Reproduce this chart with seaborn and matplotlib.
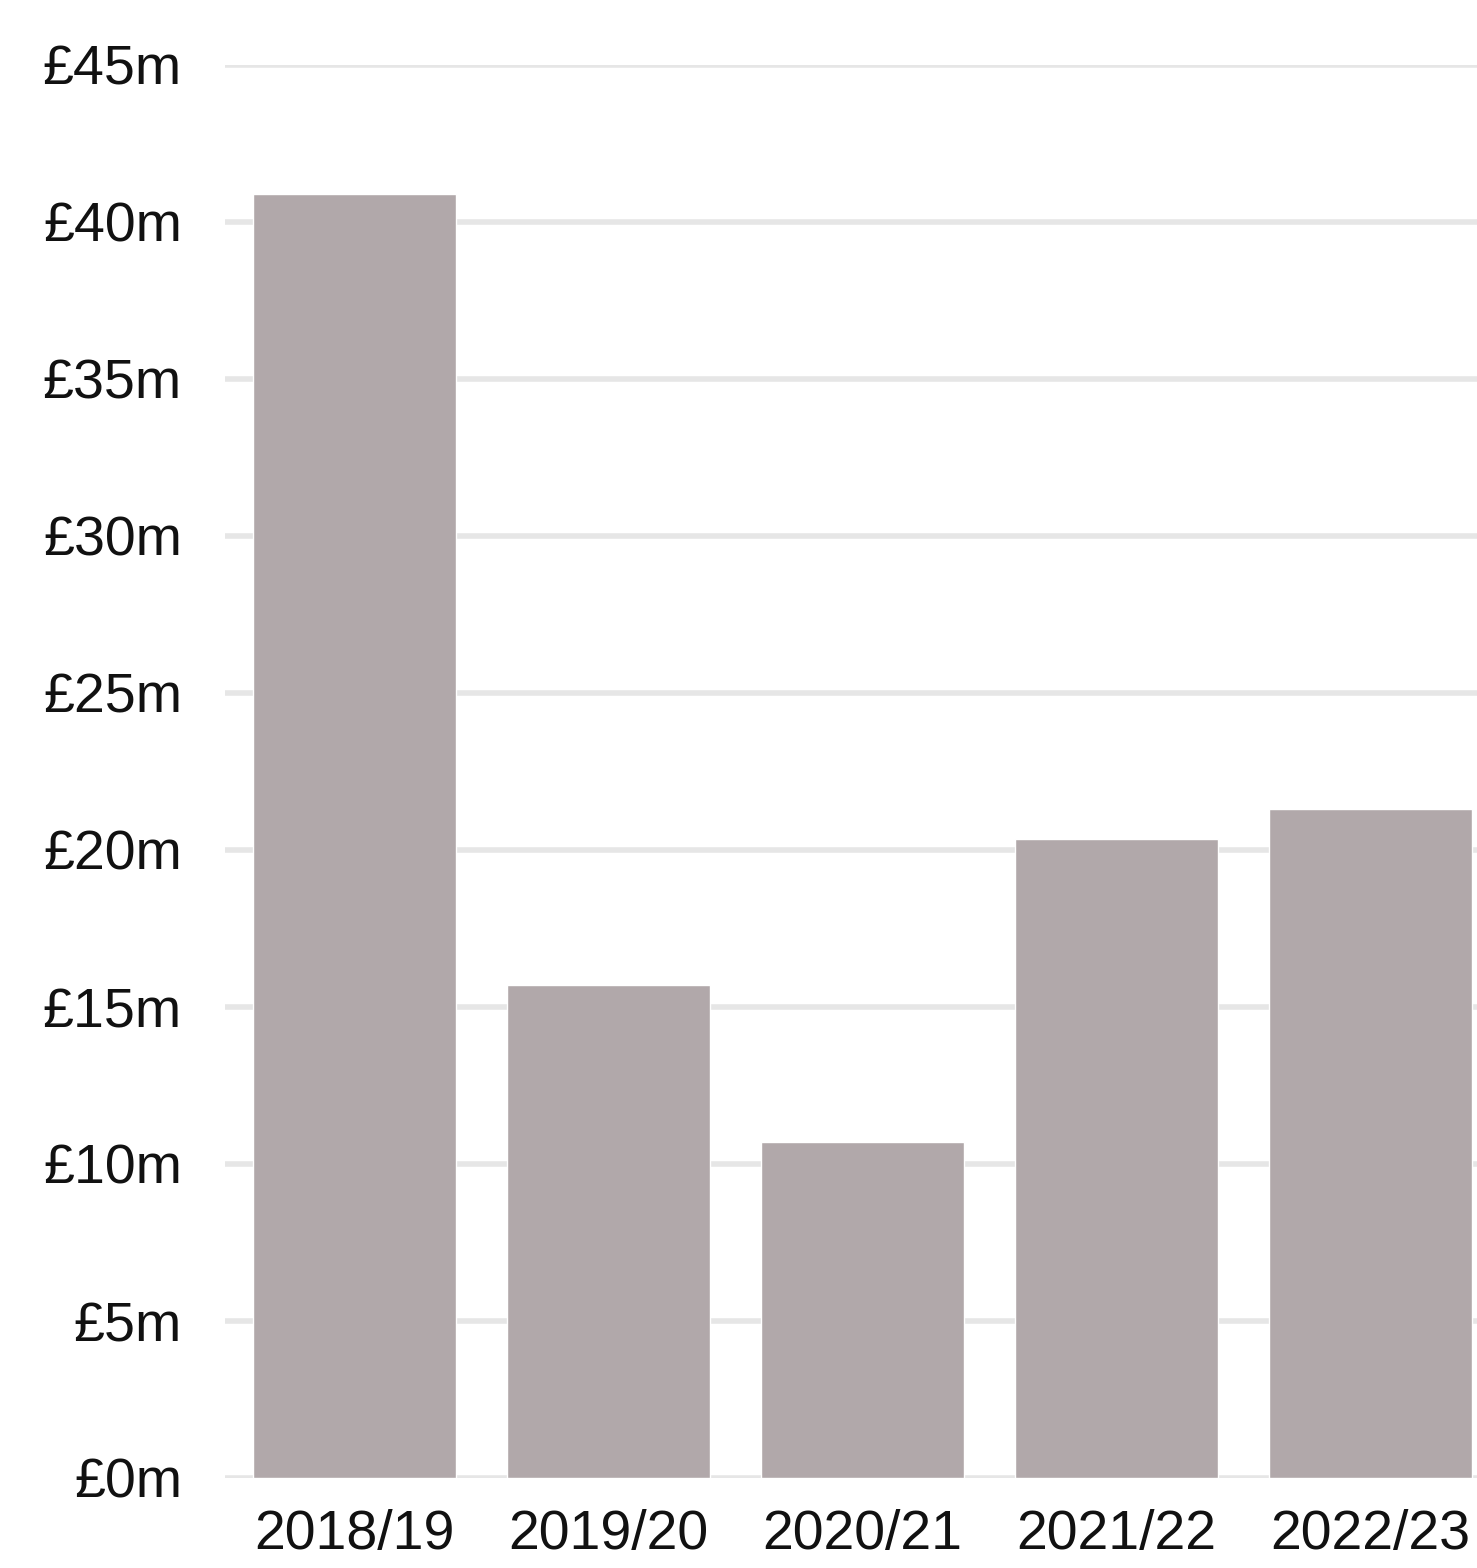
import matplotlib
matplotlib.use("Agg")
import matplotlib.pyplot as plt
import seaborn as sns
import pandas as pd

years = ["2018/19", "2019/20", "2020/21", "2021/22", "2022/23"]
values = [40.9, 15.7, 10.7, 20.35, 21.3]
yticks = [0, 5, 10, 15, 20, 25, 30, 35, 40, 45]
ytick_labels = ["£0m", "£5m", "£10m", "£15m", "£20m", "£25m", "£30m", "£35m", "£40m", "£45m"]

sns.set_theme(style="white")
plt.rcParams['font.family'] = ['Liberation Sans', 'DejaVu Sans']

df = pd.DataFrame({"year": years, "value": values})

fig = plt.figure(figsize=(14.77, 15.68), dpi=100)
ax = fig.add_axes([225/1477, (1568-1478)/1568, (1477-225)/1477, (1478-65)/1568])

sns.barplot(data=df, x="year", y="value", color="#b1a8aa", saturation=1,
            width=0.8, ax=ax, zorder=2)

ax.set_xlim(-0.51, 4.42)
ax.set_ylim(0, 45)
ax.set_yticks(yticks)
ax.set_yticklabels(ytick_labels)
ax.yaxis.grid(True, color="#e6e6e6", linewidth=4, zorder=0)
ax.set_axisbelow(True)
for s in ax.spines.values():
    s.set_visible(False)
ax.set_xlabel("")
ax.set_ylabel("")
ax.tick_params(axis="y", labelsize=40, pad=31, length=0, labelcolor="#111111")
ax.tick_params(axis="x", labelsize=40, pad=22, length=0, labelcolor="#111111")

fig.savefig("out.png", dpi=100)
